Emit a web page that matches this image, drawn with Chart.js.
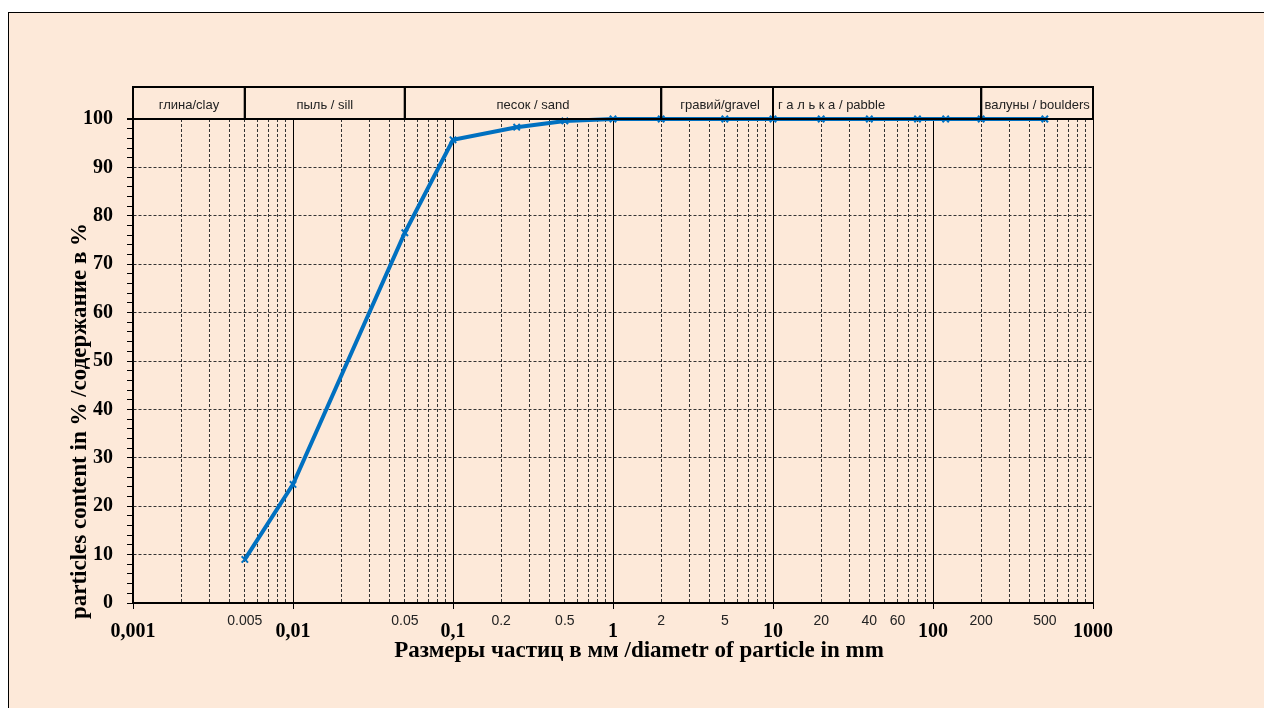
<!DOCTYPE html>
<html>
<head>
<meta charset="utf-8">
<script src="https://cdn.jsdelivr.net/npm/chart.js@4.4.0/dist/chart.umd.min.js"></script>
<style>
html, body { margin: 0; padding: 0; background: #fff; overflow: hidden; }
#marco { position: absolute; left: 8px; top: 12px; width: 1255px; height: 695px; background: #fde9d9; border-top: 1px solid #000; border-left: 1px solid #000; }
#myChart { position: absolute; left: 0; top: 0; }
</style>
</head>
<body>
<div id="marco"></div>
<canvas id="myChart" width="1264" height="708"></canvas>
<script>
// datos
var tamanos = [0.005, 0.01, 0.05, 0.1, 0.25, 0.5, 1, 2, 5, 10, 20, 40, 80, 120, 200, 500];
var contenido = [9, 24.5, 76.5, 95.7, 98.3, 99.6, 100, 100, 100, 100, 100, 100, 100, 100, 100, 100];

var decadas = [0.001, 0.01, 0.1, 1, 10, 100, 1000];
var etiqDecadas = ['0,001', '0,01', '0,1', '1', '10', '100', '1000'];
var valMenores = [0.005, 0.05, 0.2, 0.5, 2, 5, 20, 40, 60, 200, 500];
var etiqMenores = ['0.005', '0.05', '0.2', '0.5', '2', '5', '20', '40', '60', '200', '500'];

var limitesZona = [0.001, 0.005, 0.05, 2, 10, 200, 1000];
var nombresZona = ['глина/clay', 'пыль / sill', 'песок / sand', 'гравий/gravel', 'г а л ь к а / pabble', 'валуны / boulders'];

var tituloY = 'particles content in % /содержание в %';
var tituloX = 'Размеры частиц в мм /diametr of particle in mm';

const serif = "'Liberation Serif', 'Times New Roman', serif";
const sans = "'Liberation Sans', Arial, sans-serif";
const azul = '#0070c0';

const esDecada = v => Math.abs(Math.log10(v) - Math.round(Math.log10(v))) < 1e-9;

const extras = {
	id: 'extras',
	afterDraw(chart) {
		const ctx = chart.ctx;
		const x = chart.scales.x;
		const top = chart.chartArea.top;
		ctx.save();
		// cajas de clasificacion
		ctx.strokeStyle = '#000';
		ctx.lineWidth = 2;
		ctx.font = '13px ' + sans;
		ctx.fillStyle = '#222';
		ctx.textBaseline = 'middle';
		for (let i = 0; i < nombresZona.length; i++) {
			const x1 = x.getPixelForValue(limitesZona[i]);
			const x2 = x.getPixelForValue(limitesZona[i + 1]);
			ctx.strokeRect(x1, top - 32, x2 - x1, 32);
			if (i === 4) {
				ctx.textAlign = 'left';
				ctx.fillText(nombresZona[i], x1 + 5, top - 14);
			} else {
				ctx.textAlign = 'center';
				ctx.fillText(nombresZona[i], (x1 + x2) / 2 + (i === 3 ? 3 : 0), top - 14);
			}
		}
		// etiquetas pequenas del eje x
		ctx.font = '14px ' + sans;
		ctx.textAlign = 'center';
		for (let i = 0; i < valMenores.length; i++) {
			ctx.fillText(etiqMenores[i], x.getPixelForValue(valMenores[i]), 621);
		}
		// titulos
		ctx.fillStyle = '#000';
		ctx.font = 'bold 23px ' + serif;
		ctx.fillText(tituloX, 639, 651);
		ctx.translate(80, 421);
		ctx.rotate(-Math.PI / 2);
		ctx.fillText(tituloY, 0, 0);
		ctx.restore();
	}
};

const ctx = document.getElementById('myChart');
const myChart = new Chart(ctx, {
	type: 'line',
	data: {
		datasets: [{
			data: tamanos.map((t, i) => ({ x: t, y: contenido[i] })),
			borderColor: azul,
			backgroundColor: azul,
			borderWidth: 4,
			pointStyle: 'crossRot',
			pointRadius: 4.5,
			pointBorderWidth: 2,
			pointBorderColor: azul,
			tension: 0,
			clip: false
		}]
	},
	options: {
		responsive: false,
		animation: false,
		layout: { padding: { left: 0, top: 119, right: 171, bottom: 0 } },
		plugins: { legend: { display: false }, tooltip: { enabled: false } },
		scales: {
			x: {
				type: 'logarithmic',
				min: 0.001,
				max: 1000,
				afterFit: s => { s.height = 105; },
				afterBuildTicks: s => {
					const t = [];
					for (let d = 0; d < decadas.length - 1; d++) {
						for (let m = 1; m <= 9; m++) t.push({ value: Number((m * decadas[d]).toPrecision(3)) });
					}
					t.push({ value: 1000 });
					s.ticks = t;
				},
				ticks: {
					autoSkip: false,
					maxRotation: 0,
					padding: 11,
					color: '#000',
					font: { family: serif, size: 20, weight: 'bold' },
					callback: v => {
						const k = decadas.findIndex(d => Math.abs(d - v) < d * 1e-6);
						return k >= 0 ? etiqDecadas[k] : '';
					}
				},
				grid: {
					color: c => c.tick && esDecada(c.tick.value) ? '#000' : '#333',
					lineWidth: 1,
					tickLength: 6,
					tickColor: c => c.tick && esDecada(c.tick.value) ? '#000' : 'rgba(0,0,0,0)'
				},
				border: {
					color: '#000',
					width: 2,
					dash: c => c.tick && !esDecada(c.tick.value) ? [3, 2] : []
				}
			},
			y: {
				min: 0,
				max: 100,
				afterFit: s => { s.width = 133; },
				ticks: {
					stepSize: 2,
					autoSkip: false,
					padding: 14,
					color: '#000',
					font: { family: serif, size: 20, weight: 'bold' },
					callback: v => v % 10 === 0 ? v : ''
				},
				grid: {
					color: c => {
						if (!c.tick) return '#000';
						const v = c.tick.value;
						if (v === 100) return '#000';
						if (v > 0 && v % 10 === 0) return '#333';
						return 'rgba(0,0,0,0)';
					},
					lineWidth: c => c.tick && c.tick.value === 100 ? 2 : 1,
					tickLength: 6,
					tickColor: '#000'
				},
				border: {
					color: '#000',
					width: 1.5,
					dash: c => c.tick && c.tick.value < 100 ? [3, 2] : []
				}
			}
		}
	},
	plugins: [extras]
});
</script>
</body>
</html>
